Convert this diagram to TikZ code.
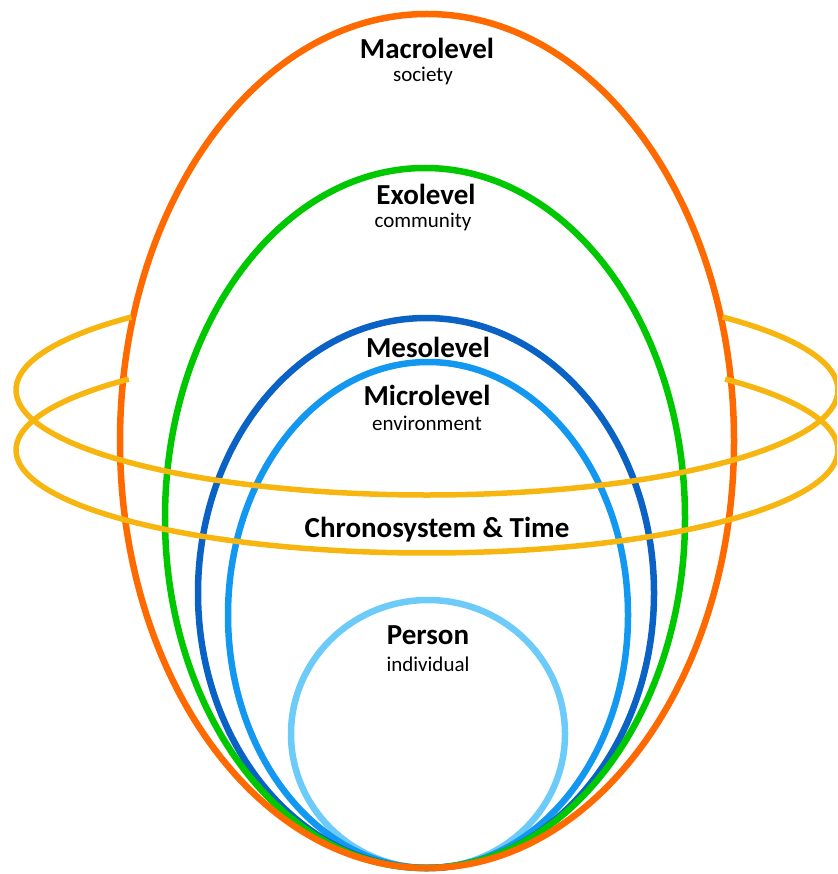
\documentclass[tikz,border=0pt]{standalone}
\usepackage{fontspec}
\setmainfont{Carlito}
\definecolor{cOrange}{HTML}{FF6A00}
\definecolor{cGreen}{HTML}{00C800}
\definecolor{cDarkBlue}{HTML}{0A62C4}
\definecolor{cBlue}{HTML}{1298F0}
\definecolor{cLight}{HTML}{6CCBF8}
\definecolor{cYellow}{HTML}{F7B50F}
\tikzset{
  level/.style={line width=6.5pt},
  ring/.style={line width=5.5pt, draw=cYellow},
  title/.style={font=\fontsize{29}{30}\selectfont\bfseries, inner sep=0pt},
  sub/.style={font=\fontsize{21}{22}\selectfont, inner sep=0pt},
}
\begin{document}
\begin{tikzpicture}[x=1pt,y=-1pt]
\useasboundingbox (0,0) rectangle (837,874);
\clip (0,0) rectangle (837,874);
% nested levels (innermost first)
\draw[level, draw=cLight] (428,734) ellipse [x radius=137, y radius=134];
\draw[level, draw=cBlue] (428,615) ellipse [x radius=200, y radius=253];
\draw[level, draw=cDarkBlue] (426,593) ellipse [x radius=228, y radius=275];
\draw[level, draw=cGreen] (425,518) ellipse [x radius=260, y radius=350];
\draw[level, draw=cOrange] (427,441) ellipse [x radius=307, y radius=427];
% chronosystem rings
\draw[ring] ([shift={(224:411 and 105)}]427,390) arc[start angle=224, end angle=-44, x radius=411, y radius=105];
\draw[ring] ([shift={(223.5:411 and 103)}]427,450) arc[start angle=223.5, end angle=-43.5, x radius=411, y radius=103];
% labels
\node[title] (macro) at (427,48) {Macrolevel};
\node[sub] (soc) at (423,76) {society};
\node[title] (exo) at (426,194) {Exolevel};
\node[sub] (com) at (423,222) {community};
\node[title] (meso) at (428,347) {Mesolevel};
\node[title] (micro) at (427,395) {Microlevel};
\node[sub] (env) at (427,423) {environment};
\node[title] (chrono) at (437,530) {Chronosystem \& Time};
\node[title] (person) at (428,635) {Person};
\node[sub] (ind) at (428,664) {individual};
\end{tikzpicture}
\end{document}
